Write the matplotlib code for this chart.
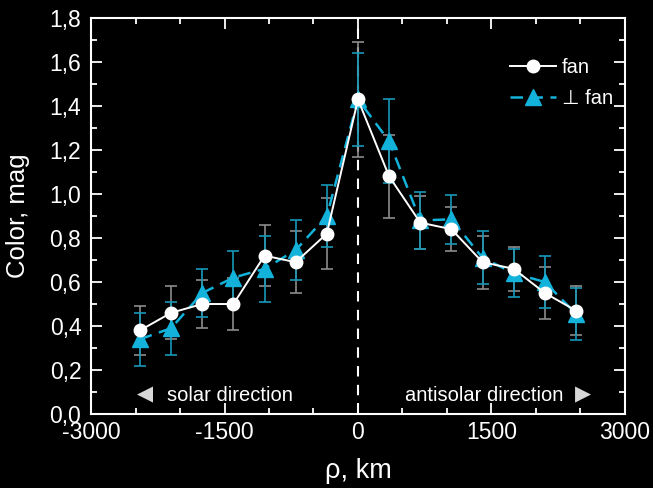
import matplotlib
matplotlib.use("Agg")
import matplotlib.pyplot as plt
from matplotlib.ticker import MultipleLocator, FuncFormatter

plt.rcParams['font.family'] = ['Liberation Sans', 'DejaVu Sans']

# distance from nucleus, km
rho = [-2450, -2100, -1750, -1400, -1050, -700, -350, 0,
       350, 700, 1050, 1400, 1750, 2100, 2450]
# color along the fan
fan = [0.38, 0.46, 0.50, 0.50, 0.72, 0.69, 0.82, 1.43,
       1.08, 0.87, 0.84, 0.69, 0.66, 0.55, 0.47]
fan_err = [0.11, 0.12, 0.11, 0.12, 0.14, 0.14, 0.16, 0.26,
           0.19, 0.12, 0.10, 0.12, 0.10, 0.12, 0.11]
# color perpendicular to the fan
perp = [0.34, 0.39, 0.55, 0.62, 0.66, 0.745, 0.90, 1.43,
        1.24, 0.88, 0.885, 0.71, 0.64, 0.60, 0.455]
perp_err = [0.12, 0.12, 0.11, 0.12, 0.15, 0.135, 0.14, 0.21,
            0.19, 0.13, 0.11, 0.12, 0.11, 0.12, 0.12]

cyan = '#13b2da'

fig = plt.figure(figsize=(6.53, 4.88), dpi=100, facecolor='black')
ax = fig.add_axes([0.1394, 0.1516, 0.8176, 0.8115], facecolor='black')

ax.axvline(0, color='white', linestyle=(0, (5, 4)), linewidth=1.5, zorder=1)

ax.errorbar(rho, fan, yerr=fan_err, fmt='none', ecolor='#8c8c8c',
            elinewidth=1.2, capsize=4, capthick=1.2, zorder=2)
ax.errorbar(rho, perp, yerr=perp_err, fmt='none', ecolor='#1898b8',
            elinewidth=1.2, capsize=4, capthick=1.2, zorder=2)

ax.plot(rho, perp, color=cyan, linestyle=(0, (5, 3)), linewidth=1.8,
        marker='^', markersize=11, markeredgecolor=cyan, zorder=3,
        label='\u22a5 fan')
ax.plot(rho, fan, color='white', linewidth=1.4, marker='o', markersize=9,
        markeredgecolor='white', zorder=4, label='fan')

ax.set_xlim(-3000, 3000)
ax.set_ylim(0, 1.8)
ax.xaxis.set_major_locator(MultipleLocator(1500))
ax.xaxis.set_minor_locator(MultipleLocator(500))
ax.yaxis.set_major_locator(MultipleLocator(0.2))
ax.yaxis.set_minor_locator(MultipleLocator(0.1))
ax.yaxis.set_major_formatter(FuncFormatter(lambda v, p: f"{v:.1f}".replace('.', ',')))
ax.xaxis.set_major_formatter(FuncFormatter(lambda v, p: f"{v:.0f}"))

for s in ax.spines.values():
    s.set_color('white')
    s.set_linewidth(1.5)
ax.tick_params(which='both', direction='in', colors='white', top=True, right=True,
               labelsize=16.5, width=1.3)
ax.tick_params(which='major', length=8)
ax.tick_params(which='minor', length=4)
ax.tick_params(axis='x', pad=5)
ax.tick_params(axis='y', pad=7)

ax.set_xlabel('\u03c1, km', color='white', fontsize=19.5, labelpad=10)
ax.set_ylabel('Color, mag', color='white', fontsize=18.5, labelpad=14)

ax.text(0.101, 0.05, '\u25c0', transform=ax.transAxes, color='#d8d8d8',
        fontsize=15, ha='center', va='center', family='DejaVu Sans')
ax.text(0.142, 0.048, 'solar direction', transform=ax.transAxes,
        color='white', fontsize=14.5, ha='left', va='center')
ax.text(0.884, 0.048, 'antisolar direction', transform=ax.transAxes,
        color='white', fontsize=14.5, ha='right', va='center')
ax.text(0.921, 0.05, '\u25b6', transform=ax.transAxes, color='#d8d8d8',
        fontsize=15, ha='center', va='center', family='DejaVu Sans')

handles, labels = ax.get_legend_handles_labels()
leg = ax.legend(handles[::-1], labels[::-1], loc='upper right',
                bbox_to_anchor=(1.012, 0.945), frameon=False, fontsize=14.5,
                handlelength=2.3, handletextpad=0.3, labelspacing=0.6,
                labelcolor='white')

fig.savefig('out.png', dpi=100, facecolor='black')
